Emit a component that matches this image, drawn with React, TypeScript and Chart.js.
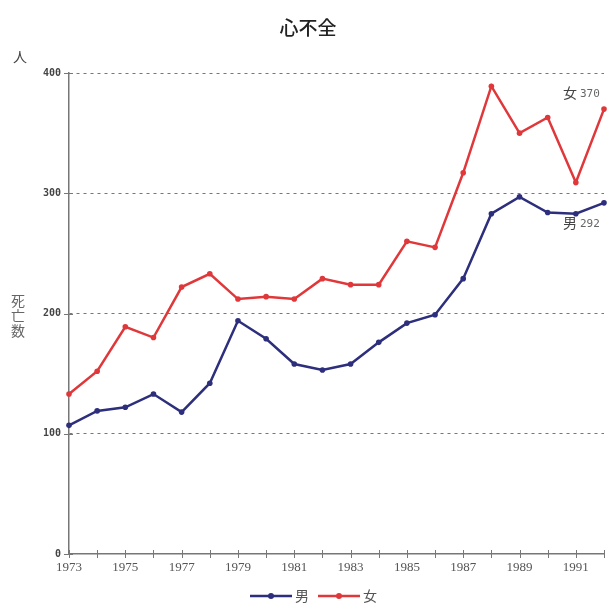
import React, { useEffect, useRef } from "react";
import { Chart, registerables } from "chart.js";

Chart.register(...registerables);

const years = [1973, 1974, 1975, 1976, 1977, 1978, 1979, 1980, 1981, 1982, 1983, 1984, 1985, 1986, 1987, 1988, 1989, 1990, 1991, 1992];
const male = [107, 119, 122, 133, 118, 142, 194, 179, 158, 153, 158, 176, 192, 199, 229, 283, 297, 284, 283, 292];
const female = [133, 152, 189, 180, 222, 233, 212, 214, 212, 229, 224, 224, 260, 255, 317, 389, 350, 363, 309, 370];
const yTicks = [0, 100, 200, 300, 400];
const seriesNames = ["男", "女"];
const seriesColors = ["#2d2e7c", "#e0383a"];
const titleText = "心不全";
const yUnit = "人";
const yLabel = ["死", "亡", "数"];

const decorPlugin = {
  id: "decor",
  afterDraw(chart: any) {
    const ctx = chart.ctx;
    const xs = chart.scales.x;
    const ys = chart.scales.y;
    const area = chart.chartArea;
    ctx.save();
    // cross tick marks
    ctx.strokeStyle = "#777";
    ctx.lineWidth = 1;
    years.forEach((yr) => {
      const px = Math.round(xs.getPixelForValue(yr)) + 0.5;
      ctx.beginPath();
      ctx.moveTo(px, area.bottom - 4);
      ctx.lineTo(px, area.bottom + 4);
      ctx.stroke();
    });
    yTicks.forEach((v) => {
      const py = Math.round(ys.getPixelForValue(v)) + 0.5;
      ctx.beginPath();
      ctx.moveTo(area.left - 5, py);
      ctx.lineTo(area.left + 4, py);
      ctx.stroke();
    });
    // title
    ctx.fillStyle = "#222";
    ctx.font = "500 19px 'Noto Sans CJK JP'";
    ctx.textAlign = "center";
    ctx.textBaseline = "middle";
    ctx.fillText(titleText, 308, 28);
    // unit
    ctx.fillStyle = "#444";
    ctx.font = "14px 'Noto Sans CJK JP'";
    ctx.fillText(yUnit, 20, 57);
    // vertical axis label
    ctx.fillStyle = "#666";
    ctx.font = "14px 'Noto Sans CJK JP'";
    yLabel.forEach((ch, i) => {
      ctx.fillText(ch, 18, 301 + i * 15);
    });
    // end labels
    const lastX = xs.getPixelForValue(years[years.length - 1]);
    ctx.textAlign = "left";
    ctx.fillStyle = "#444";
    const fy = ys.getPixelForValue(female[female.length - 1]) - 16;
    const my = ys.getPixelForValue(male[male.length - 1]) + 20;
    ctx.font = "14px 'Noto Sans CJK JP'";
    ctx.fillText(seriesNames[1], lastX - 41, fy);
    ctx.fillText(seriesNames[0], lastX - 41, my);
    ctx.font = "11px 'DejaVu Sans Mono'";
    ctx.fillStyle = "#666";
    ctx.fillText(String(female[female.length - 1]), lastX - 24, fy + 1);
    ctx.fillText(String(male[male.length - 1]), lastX - 24, my + 1);
    // legend
    const ly = 596;
    const items = [
      { x: 250, color: seriesColors[0], name: seriesNames[0] },
      { x: 318, color: seriesColors[1], name: seriesNames[1] },
    ];
    items.forEach((it) => {
      ctx.strokeStyle = it.color;
      ctx.lineWidth = 2.5;
      ctx.beginPath();
      ctx.moveTo(it.x, ly);
      ctx.lineTo(it.x + 42, ly);
      ctx.stroke();
      ctx.fillStyle = it.color;
      ctx.beginPath();
      ctx.arc(it.x + 21, ly, 3, 0, Math.PI * 2);
      ctx.fill();
      ctx.fillStyle = "#555";
      ctx.font = "14px 'Noto Sans CJK JP'";
      ctx.textAlign = "left";
      ctx.fillText(it.name, it.x + 45, ly);
    });
    ctx.restore();
  },
};

export default function App() {
  const ref = useRef<HTMLCanvasElement>(null);
  useEffect(() => {
    document.body.style.margin = "0";
    const chart = new Chart(ref.current as HTMLCanvasElement, {
      type: "line",
      data: {
        datasets: [
          {
            label: seriesNames[0],
            data: years.map((y, i) => ({ x: y, y: male[i] })),
            borderColor: seriesColors[0],
            backgroundColor: seriesColors[0],
            borderWidth: 2.5,
            pointRadius: 2.8,
            pointBorderWidth: 0,
            tension: 0,
            clip: false,
          },
          {
            label: seriesNames[1],
            data: years.map((y, i) => ({ x: y, y: female[i] })),
            borderColor: seriesColors[1],
            backgroundColor: seriesColors[1],
            borderWidth: 2.5,
            pointRadius: 2.8,
            pointBorderWidth: 0,
            tension: 0,
            clip: false,
          },
        ],
      },
      plugins: [decorPlugin],
      options: {
        animation: false,
        responsive: false,
        maintainAspectRatio: false,
        layout: { padding: { left: 0, right: 9, top: 73, bottom: 0 } },
        plugins: {
          legend: { display: false },
          tooltip: { enabled: false },
          title: { display: false },
        },
        scales: {
          x: {
            type: "linear",
            min: 1973,
            max: 1992,
            afterFit: (s: any) => {
              s.height = 57;
            },
            afterBuildTicks: (s: any) => {
              s.ticks = years.map((v) => ({ value: v }));
            },
            grid: { display: false, drawTicks: false },
            border: { display: true, color: "#777", width: 1.5 },
            ticks: {
              padding: 6,
              color: "#555",
              font: { family: "'Liberation Serif'", size: 13 },
              autoSkip: false,
              maxRotation: 0,
              callback: (v: any) => ((Number(v) - 1973) % 2 === 0 ? String(v) : ""),
            },
          },
          y: {
            min: 0,
            max: 400,
            afterFit: (s: any) => {
              s.width = 69;
            },
            afterBuildTicks: (s: any) => {
              s.ticks = yTicks.map((v) => ({ value: v }));
            },
            grid: {
              drawTicks: false,
              color: (c: any) => (c.tick && c.tick.value === 0 ? "rgba(0,0,0,0)" : "#777"),
              lineWidth: 1,
            },
            border: { display: true, color: "#777", width: 1.5, dash: [3, 4] },
            ticks: {
              padding: 8,
              color: "#444",
              font: { family: "'DejaVu Sans Mono'", size: 10, weight: "bold" },
            },
          },
        },
      } as any,
    });
    return () => chart.destroy();
  }, []);
  return (
    <div style={{ position: "absolute", left: 0, top: 0, width: 613, height: 611, background: "#fff" }}>
      <canvas ref={ref} width={613} height={611} style={{ display: "block" }} />
    </div>
  );
}
